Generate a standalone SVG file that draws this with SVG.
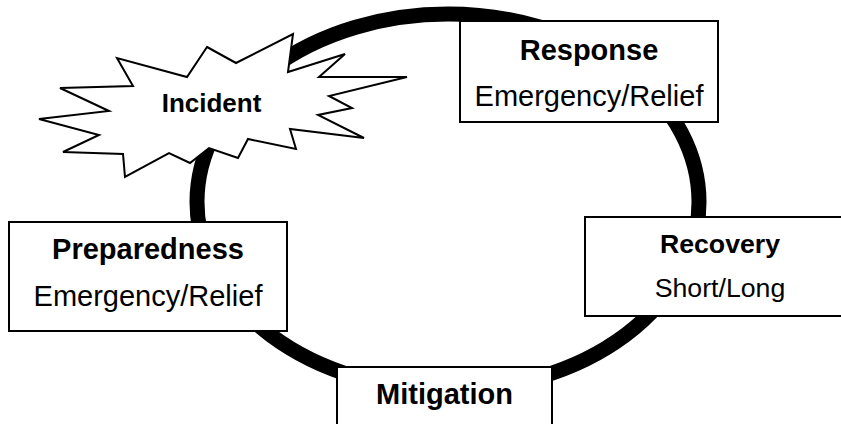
<svg xmlns="http://www.w3.org/2000/svg" width="841" height="424" viewBox="0 0 841 424">
<style>
.box{fill:#fff;stroke:#000;stroke-width:2}
.t{font-family:"Liberation Sans",Arial,sans-serif;fill:#000;text-anchor:middle}
.b{font-weight:bold}
.ring{fill:none;stroke:#000;stroke-width:15}
</style>
<rect width="841" height="424" fill="#fff"/>
<g id="connectors">
<ellipse class="ring" cx="448" cy="202" rx="251" ry="188"/>
</g>
<g id="incident">
<polygon fill="#fff" stroke="#000" stroke-width="2" stroke-linejoin="miter" points="207,47 236,63 293,34 288,72 345,54 319,77 407,77 329,96 352,108 318,115 364,138 290,129 296,149 248,139 238,158 209,148 190,163 169,153 125,177 123,154 63,152 99,135 39,119 109,111 60,88 133,86 117,58 187,77"/>
<text class="t b" x="211.5" y="112" font-size="26">Incident</text>
</g>
<g id="response">
<rect class="box" x="460" y="21" width="258" height="101"/>
<text class="t b" x="589" y="60" font-size="29">Response</text>
<text class="t" x="589" y="106" font-size="29">Emergency/Relief</text>
</g>
<g id="recovery">
<rect class="box" x="585" y="217" width="270" height="99"/>
<text class="t b" x="720" y="253" font-size="26.7">Recovery</text>
<text class="t" x="720" y="297" font-size="26.7">Short/Long</text>
</g>
<g id="preparedness">
<rect class="box" x="9" y="222" width="278" height="109"/>
<text class="t b" x="148" y="259" font-size="29">Preparedness</text>
<text class="t" x="148" y="306" font-size="29">Emergency/Relief</text>
</g>
<g id="mitigation">
<rect class="box" x="337" y="367" width="215" height="80"/>
<text class="t b" x="444.5" y="404" font-size="29">Mitigation</text>
</g>
</svg>
